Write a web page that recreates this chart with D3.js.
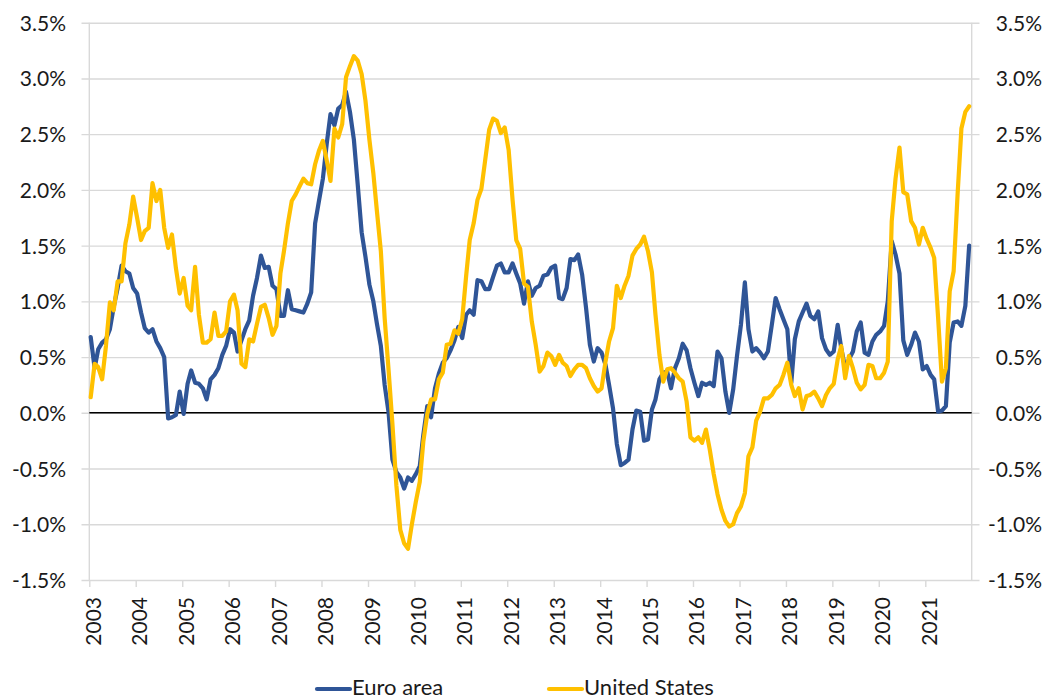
<!DOCTYPE html>
<html>
<head>
<meta charset="utf-8">
<script src="https://cdn.jsdelivr.net/npm/d3@7"></script>
<style>
  html, body { margin: 0; padding: 0; background: #ffffff; }
  svg { display: block; }
  text { font-family: Lato, "Open Sans", sans-serif; fill: #1a1a1a; }
</style>
</head>
<body>
<svg id="chart" width="1052" height="700"></svg>
<script>
// ---------- data ----------
const startYear = 2003;
const years = [2003,2004,2005,2006,2007,2008,2009,2010,2011,2012,2013,2014,2015,2016,2017,2018,2019,2020,2021];
const yTicks = [-1.5,-1.0,-0.5,0.0,0.5,1.0,1.5,2.0,2.5,3.0,3.5];
const seriesNames = ["Euro area", "United States"];

const euroArea = [
  0.68, 0.40, 0.57, 0.63, 0.66, 0.75, 0.95, 1.12, 1.32, 1.27, 1.25, 1.12,
  1.07, 0.90, 0.76, 0.72, 0.75, 0.64, 0.58, 0.50, -0.05, -0.04, -0.02, 0.19,
  -0.01, 0.26, 0.38, 0.27, 0.26, 0.22, 0.12, 0.30, 0.34, 0.40, 0.52, 0.60,
  0.75, 0.72, 0.55, 0.65, 0.75, 0.83, 1.05, 1.21, 1.41, 1.30, 1.31, 1.14,
  1.11, 0.87, 0.87, 1.10, 0.93, 0.92, 0.91, 0.90, 0.98, 1.08, 1.70, 1.90,
  2.10, 2.42, 2.68, 2.58, 2.73, 2.76, 2.88, 2.70, 2.45, 2.05, 1.62, 1.40,
  1.15, 1.00, 0.80, 0.60, 0.25, 0.00, -0.42, -0.53, -0.58, -0.68, -0.58, -0.61,
  -0.55, -0.48, -0.20, 0.06, -0.04, 0.22, 0.35, 0.45, 0.49, 0.56, 0.65, 0.77,
  0.67, 0.88, 0.92, 0.88, 1.19, 1.18, 1.11, 1.11, 1.22, 1.32, 1.34, 1.26,
  1.26, 1.34, 1.25, 1.16, 0.98, 1.18, 1.05, 1.12, 1.14, 1.23, 1.24, 1.30,
  1.32, 1.03, 1.02, 1.12, 1.38, 1.37, 1.42, 1.24, 0.94, 0.61, 0.46, 0.58,
  0.54, 0.43, 0.25, 0.04, -0.28, -0.47, -0.45, -0.42, -0.15, 0.02, 0.01, -0.25,
  -0.24, 0.03, 0.12, 0.30, 0.36, 0.37, 0.22, 0.40, 0.49, 0.62, 0.56, 0.40,
  0.27, 0.15, 0.27, 0.25, 0.27, 0.24, 0.55, 0.49, 0.19, 0.00, 0.21, 0.51,
  0.79, 1.17, 0.75, 0.55, 0.58, 0.54, 0.49, 0.55, 0.79, 1.03, 0.93, 0.84,
  0.75, 0.27, 0.66, 0.82, 0.90, 0.98, 0.87, 0.84, 0.91, 0.67, 0.57, 0.52,
  0.55, 0.79, 0.58, 0.40, 0.48, 0.55, 0.73, 0.81, 0.54, 0.52, 0.64, 0.70,
  0.73, 0.78, 1.00, 1.54, 1.42, 1.25, 0.65, 0.52, 0.61, 0.72, 0.64, 0.39,
  0.42, 0.34, 0.30, 0.01, 0.02, 0.06, 0.63, 0.81, 0.82, 0.78, 0.96, 1.50
];

const unitedStates = [
  0.14, 0.44, 0.41, 0.30, 0.60, 0.99, 0.92, 1.18, 1.18, 1.52, 1.69, 1.94,
  1.75, 1.55, 1.63, 1.66, 2.06, 1.90, 2.00, 1.66, 1.48, 1.60, 1.30, 1.07,
  1.21, 0.96, 0.92, 1.31, 0.88, 0.63, 0.63, 0.66, 0.90, 0.69, 0.69, 0.73,
  1.00, 1.06, 0.92, 0.44, 0.41, 0.66, 0.64, 0.80, 0.95, 0.97, 0.85, 0.70,
  0.78, 1.25, 1.45, 1.70, 1.90, 1.96, 2.03, 2.10, 2.06, 2.05, 2.23, 2.35,
  2.44, 2.26, 2.08, 2.55, 2.47, 2.59, 3.01, 3.11, 3.20, 3.16, 3.04, 2.80,
  2.45, 2.15, 1.81, 1.45, 0.85, 0.38, -0.10, -0.65, -1.05, -1.17, -1.22, -1.00,
  -0.80, -0.62, -0.26, -0.01, 0.12, 0.12, 0.30, 0.36, 0.61, 0.62, 0.74, 0.71,
  0.84, 1.23, 1.55, 1.70, 1.91, 2.01, 2.27, 2.54, 2.64, 2.62, 2.51, 2.56,
  2.36, 1.91, 1.55, 1.47, 1.16, 1.13, 0.82, 0.61, 0.37, 0.42, 0.54, 0.51,
  0.43, 0.52, 0.45, 0.42, 0.33, 0.39, 0.43, 0.43, 0.40, 0.31, 0.24, 0.19,
  0.22, 0.46, 0.64, 0.76, 1.14, 1.03, 1.14, 1.23, 1.41, 1.47, 1.51, 1.58,
  1.45, 1.26, 0.88, 0.52, 0.28, 0.39, 0.40, 0.36, 0.31, 0.28, 0.10, -0.22,
  -0.25, -0.22, -0.27, -0.15, -0.33, -0.55, -0.73, -0.87, -0.97, -1.02, -1.00, -0.90,
  -0.84, -0.72, -0.39, -0.31, -0.07, 0.01, 0.13, 0.13, 0.16, 0.22, 0.25, 0.34,
  0.45, 0.25, 0.15, 0.22, 0.03, 0.15, 0.16, 0.19, 0.13, 0.06, 0.16, 0.22,
  0.26, 0.48, 0.60, 0.31, 0.51, 0.40, 0.27, 0.21, 0.25, 0.43, 0.42, 0.31,
  0.31, 0.36, 0.46, 1.72, 2.10, 2.38, 1.98, 1.96, 1.72, 1.66, 1.51, 1.66,
  1.56, 1.48, 1.39, 0.85, 0.28, 0.40, 1.09, 1.27, 1.96, 2.55, 2.70, 2.75
];

// ---------- layout ----------
const W = 1052, H = 700;
const plotLeft = 89.3, plotRight = 971.7, plotTop = 22.7, plotBottom = 580;
const colors = { euro: "#2F5597", us: "#FFC000" };

const svg = d3.select("#chart");
svg.append("rect").attr("width", W).attr("height", H).attr("fill", "#ffffff");

const dates = euroArea.map((_, i) => new Date(startYear, i, 12));

const x = d3.scaleTime()
  .domain([new Date(years[0], 0, 1), new Date(years[years.length - 1] + 1, 0, 1)])
  .range([plotLeft, plotRight]);
const y = d3.scaleLinear().domain([-1.5, 3.5]).range([plotBottom, plotTop]);

const fmt = d => d.toFixed(1) + "%";

// left axis with gridlines (extending a little outside the plot as tick marks)
const gridStart = 81.5, gridEnd = 979.5;
const leftAxis = svg.append("g")
  .attr("transform", `translate(${gridStart},0)`)
  .call(d3.axisLeft(y).tickValues(yTicks).tickFormat(fmt)
    .tickSizeInner(-(gridEnd - gridStart)).tickSizeOuter(0).tickPadding(15.5));
leftAxis.select(".domain").remove();
leftAxis.selectAll(".tick line").attr("stroke", "#d9d9d9").attr("stroke-width", 1.4);
leftAxis.selectAll(".tick text")
  .attr("font-size", 21).attr("dy", "0.36em").attr("fill", "#1a1a1a");

// right axis labels
const rightAxis = svg.append("g")
  .attr("transform", `translate(${plotRight},0)`)
  .call(d3.axisRight(y).tickValues(yTicks).tickFormat(fmt).tickSize(0));
rightAxis.select(".domain").remove();
rightAxis.selectAll(".tick text")
  .attr("x", 1042 - plotRight).attr("text-anchor", "end")
  .attr("font-size", 21).attr("dy", "0.36em").attr("fill", "#1a1a1a");

// vertical frame lines
svg.append("line").attr("x1", plotLeft).attr("x2", plotLeft)
  .attr("y1", plotTop).attr("y2", plotBottom)
  .attr("stroke", "#d9d9d9").attr("stroke-width", 1.4);
svg.append("line").attr("x1", plotRight).attr("x2", plotRight)
  .attr("y1", plotTop).attr("y2", plotBottom)
  .attr("stroke", "#d9d9d9").attr("stroke-width", 1.4);

// bottom axis: tick marks + rotated year labels
const bottomAxis = svg.append("g")
  .attr("transform", `translate(0,${plotBottom})`)
  .call(d3.axisBottom(x).tickValues(years.map(yr => new Date(yr, 0, 1)))
    .tickFormat(d3.timeFormat("%Y")).tickSizeInner(7).tickSizeOuter(0));
bottomAxis.select(".domain").remove();
bottomAxis.selectAll(".tick line").attr("stroke", "#d9d9d9").attr("stroke-width", 1.4);
bottomAxis.selectAll(".tick text")
  .attr("transform", "rotate(-90)")
  .attr("text-anchor", "end")
  .attr("x", -17).attr("y", 11).attr("dy", null)
  .attr("font-size", 21).attr("fill", "#1a1a1a");

// zero line
svg.append("line")
  .attr("x1", plotLeft).attr("x2", plotRight)
  .attr("y1", y(0)).attr("y2", y(0))
  .attr("stroke", "#000000").attr("stroke-width", 1.5);

// series lines
const line = d3.line().x((d, i) => x(dates[i])).y(d => y(d)).curve(d3.curveLinear);
svg.append("path").datum(euroArea)
  .attr("d", line).attr("fill", "none")
  .attr("stroke", colors.euro).attr("stroke-width", 4.2)
  .attr("stroke-linejoin", "round").attr("stroke-linecap", "round");
svg.append("path").datum(unitedStates)
  .attr("d", line).attr("fill", "none")
  .attr("stroke", colors.us).attr("stroke-width", 4.2)
  .attr("stroke-linejoin", "round").attr("stroke-linecap", "round");

// legend
const legendItems = [
  { name: seriesNames[0], color: colors.euro, x0: 317 },
  { name: seriesNames[1], color: colors.us, x0: 549 }
];
const lg = svg.append("g");
legendItems.forEach(it => {
  lg.append("line").attr("x1", it.x0).attr("x2", it.x0 + 33)
    .attr("y1", 689).attr("y2", 689)
    .attr("stroke", it.color).attr("stroke-width", 4.2).attr("stroke-linecap", "round");
  lg.append("text").attr("x", it.x0 + 35).attr("y", 695)
    .attr("font-size", 22).attr("fill", "#1a1a1a").text(it.name);
});
</script>
</body>
</html>
